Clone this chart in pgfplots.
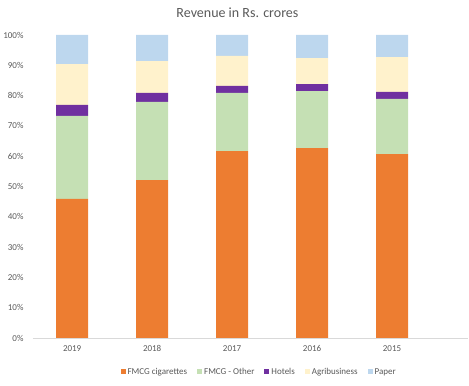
\documentclass[border=0pt]{standalone}
\usepackage{pgfplots}
\pgfplotsset{compat=1.18}
\usepackage{fontspec}
\setmainfont{Carlito}
\definecolor{cOrange}{HTML}{ED7D31}
\definecolor{cGreen}{HTML}{C5E0B4}
\definecolor{cPurple}{HTML}{7030A0}
\definecolor{cAgri}{HTML}{FFF2CC}
\definecolor{cPaper}{HTML}{BDD7EE}
\definecolor{txt}{HTML}{595959}
\definecolor{axl}{HTML}{D9D9D9}
\begin{document}
\begin{tikzpicture}
\begin{axis}[
  name=ax,
  scale only axis,
  width=435bp, height=303bp,
  ybar stacked,
  bar width=32bp,
  xmin=-0.49, xmax=4.95,
  ymin=0, ymax=100,
  enlarge y limits=false,
  axis x line*=bottom,
  axis y line*=left,
  x axis line style={draw=axl, line width=0.8bp},
  y axis line style={draw=none},
  major tick length=0pt,
  xtick=data,
  xticklabels={2019,2018,2017,2016,2015},
  ytick={0,10,...,100},
  yticklabels={0\%,10\%,20\%,30\%,40\%,50\%,60\%,70\%,80\%,90\%,100\%},
  ticklabel style={font=\fontsize{9bp}{11bp}\selectfont, text=txt},
  yticklabel style={xshift=-6bp},
  xticklabel style={yshift=-4bp},
  title={Revenue in Rs. crores},
  title style={font=\fontsize{14bp}{16bp}\selectfont, text=txt, at={(0.47,1)}, yshift=8bp},
  legend columns=5,
  legend style={draw=none, at={(0.52,-0.112)}, anchor=center,
    font=\fontsize{9bp}{11bp}\selectfont, text=txt,
    /tikz/every even column/.append style={column sep=8bp}},
  legend image code/.code={\fill[#1] (0bp,-2.5bp) rectangle (5bp,2.5bp);},
]
\addplot[fill=cOrange, draw=none] coordinates {(0,45.9) (1,52.1) (2,61.7) (3,62.7) (4,60.7)};
\addplot[fill=cGreen, draw=none] coordinates {(0,27.4) (1,25.8) (2,19.2) (3,18.8) (4,18.2)};
\addplot[fill=cPurple, draw=none] coordinates {(0,3.6) (1,3.0) (2,2.3) (3,2.3) (4,2.3)};
\addplot[fill=cAgri, draw=none] coordinates {(0,13.5) (1,10.5) (2,9.9) (3,8.6) (4,11.5)};
\addplot[fill=cPaper, draw=none] coordinates {(0,9.6) (1,8.6) (2,6.9) (3,7.6) (4,7.3)};
\legend{FMCG cigarettes, FMCG - Other, Hotels, Agribusiness, Paper}
\end{axis}
\path ([xshift=-33bp,yshift=-48bp]ax.south west) rectangle ([xshift=1bp,yshift=35bp]ax.north east);
\end{tikzpicture}
\end{document}
